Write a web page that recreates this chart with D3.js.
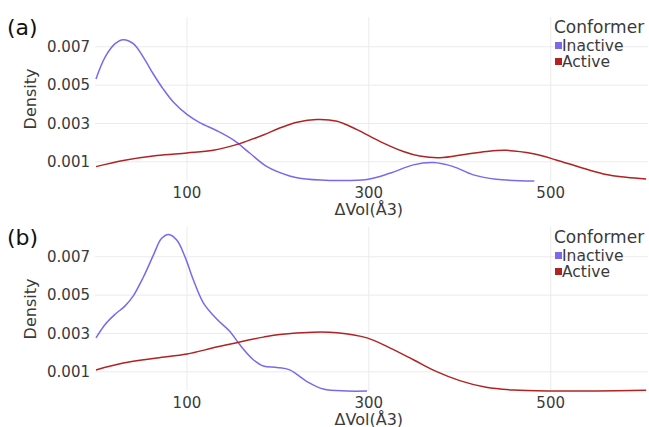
<!DOCTYPE html>
<html>
<head>
<meta charset="utf-8">
<script src="https://cdn.jsdelivr.net/npm/d3@7"></script>
<style>
  body { margin: 0; background: #fff; }
  text { font-family: "DejaVu Sans", sans-serif; fill: #3a3a3a; }
</style>
</head>
<body>
<svg width="649" height="427"></svg>
<script>
// values
var xTicks = [100, 300, 500];
var yTicks = [0.001, 0.003, 0.005, 0.007];
var conformers = ["Inactive", "Active"];

var aInactiveVol = [0, 10, 21, 30, 41, 52, 63, 74, 85, 100, 114, 133, 151, 169, 188, 213, 224, 257, 298, 323, 349, 371, 393, 415, 440, 482];
var aInactiveDen = [0.00532, 0.00646, 0.00716, 0.00737, 0.00716, 0.00646, 0.00558, 0.00479, 0.00412, 0.00347, 0.00304, 0.00262, 0.00214, 0.00146, 0.00075, 0.00026, 0.00014, 0.00003, 0.00008, 0.0004, 0.00084, 0.00096, 0.00075, 0.00032, 0.00009, 0.0];
var aActiveVol = [0, 30, 67, 100, 129, 158, 184, 202, 221, 243, 265, 287, 312, 338, 356, 378, 407, 429, 451, 481, 506, 532, 558, 583, 605];
var aActiveDen = [0.00075, 0.00107, 0.00133, 0.00146, 0.0016, 0.00195, 0.0024, 0.00276, 0.00306, 0.00321, 0.00312, 0.00268, 0.00207, 0.00154, 0.0013, 0.00121, 0.0014, 0.00154, 0.0016, 0.00142, 0.0011, 0.00072, 0.00037, 0.00019, 0.0001];

var bInactiveVol = [0, 10, 21, 32, 41, 52, 63, 72, 80, 89, 98, 107, 118, 133, 147, 158, 173, 184, 199, 213, 232, 250, 276, 298];
var bInactiveDen = [0.00277, 0.00347, 0.004, 0.00444, 0.00496, 0.00593, 0.00707, 0.00795, 0.00816, 0.00786, 0.00698, 0.0058, 0.0046, 0.00374, 0.00312, 0.00242, 0.00163, 0.0013, 0.00123, 0.0011, 0.00049, 0.0001, 0.0, 0.0];
var bActiveVol = [0, 30, 67, 100, 129, 158, 184, 202, 239, 265, 298, 323, 349, 374, 400, 429, 459, 503, 550, 605];
var bActiveDen = [0.0011, 0.00146, 0.00172, 0.00193, 0.00225, 0.00256, 0.00281, 0.00295, 0.00307, 0.00304, 0.00277, 0.00225, 0.00163, 0.00102, 0.00054, 0.00019, 0.00005, 0.0, 0.0, 0.00004];

var colors = {Inactive: "#7B68EE", Active: "#B22222"};

var svg = d3.select("svg");
var x = d3.scaleLinear().domain([0, 607]).range([96, 648]);

function zip(vs, ds) {
    return vs.map(function(v, i) { return [v, ds[i]]; });
}

function panel(label, top, series) {
    var bottom = top + 163;
    var y = d3.scaleLinear().domain([0, 0.0085]).range([bottom, top]);
    var g = svg.append("g");

    // grid
    g.selectAll(".hg").data(yTicks).enter().append("line")
        .attr("x1", 95).attr("x2", 648)
        .attr("y1", function(d) { return y(d); })
        .attr("y2", function(d) { return y(d); })
        .attr("stroke", "#ebebeb").attr("stroke-width", 1);
    g.selectAll(".vg").data(xTicks).enter().append("line")
        .attr("x1", function(d) { return x(d); })
        .attr("x2", function(d) { return x(d); })
        .attr("y1", top - 1).attr("y2", bottom)
        .attr("stroke", "#ebebeb").attr("stroke-width", 1);

    // tick labels
    g.selectAll(".yl").data(yTicks).enter().append("text")
        .attr("x", 90).attr("y", function(d) { return y(d); })
        .attr("dy", "0.35em").attr("text-anchor", "end")
        .style("font-size", "15px")
        .text(function(d) { return d3.format(".3f")(d); });
    g.selectAll(".xl").data(xTicks).enter().append("text")
        .attr("x", function(d) { return x(d); }).attr("y", bottom + 12)
        .attr("dy", "0.35em").attr("text-anchor", "middle")
        .style("font-size", "15px")
        .text(function(d) { return d; });

    g.append("text")
        .attr("x", x(300)).attr("y", bottom + 28)
        .attr("dy", "0.35em").attr("text-anchor", "middle")
        .style("font-size", "16px")
        .text("ΔVol(Å3)");
    g.append("text")
        .attr("transform", "translate(30," + (top + 81) + ")rotate(-90)")
        .attr("dy", "0.35em").attr("text-anchor", "middle")
        .style("font-size", "16px")
        .text("Density");
    g.append("text")
        .attr("x", 7).attr("y", top + 9)
        .attr("dy", "0.35em")
        .style("font-size", "22px").style("fill", "#111")
        .text(label);

    var line = d3.line()
        .x(function(d) { return x(d[0]); })
        .y(function(d) { return y(d[1]); })
        .curve(d3.curveCatmullRom.alpha(0.5));

    series.forEach(function(s) {
        g.append("path")
            .attr("d", line(s.points))
            .attr("fill", "none")
            .attr("stroke", colors[s.name])
            .attr("stroke-width", 1.5);
    });

    // legend
    var lg = g.append("g").attr("transform", "translate(554," + (top + 9) + ")");
    lg.append("text").attr("x", 0).attr("y", 0).attr("dy", "0.35em")
        .style("font-size", "17px").text("Conformer");
    var item = lg.selectAll(".it").data(conformers).enter().append("g")
        .attr("transform", function(d, i) { return "translate(0," + (19 + i * 16) + ")"; });
    item.append("rect").attr("x", 1).attr("y", -4).attr("width", 7).attr("height", 7)
        .attr("fill", function(d) { return colors[d]; });
    item.append("text").attr("x", 8).attr("y", 0).attr("dy", "0.35em")
        .style("font-size", "15.5px").text(function(d) { return d; });
}

panel("(a)", 18, [
    {name: "Inactive", points: zip(aInactiveVol, aInactiveDen)},
    {name: "Active", points: zip(aActiveVol, aActiveDen)}
]);
panel("(b)", 228, [
    {name: "Inactive", points: zip(bInactiveVol, bInactiveDen)},
    {name: "Active", points: zip(bActiveVol, bActiveDen)}
]);
</script>
</body>
</html>
